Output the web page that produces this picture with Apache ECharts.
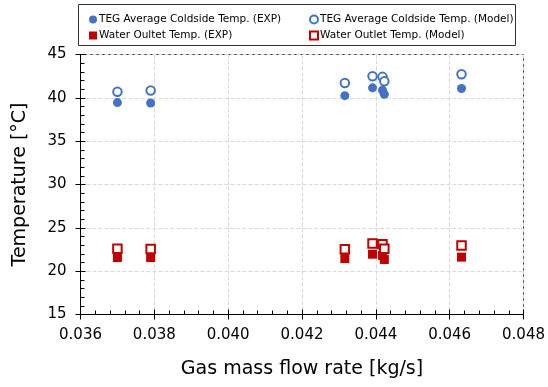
<!DOCTYPE html>
<html>
<head>
<meta charset="utf-8">
<script src="https://cdn.jsdelivr.net/npm/echarts@6/dist/echarts.min.js"></script>
<style>html,body{margin:0;padding:0;background:#fff}#c{width:548px;height:387px}</style>
</head>
<body>
<div id="c"></div>
<script>
const flowRate = [0.0370, 0.0379, 0.04316, 0.04391, 0.04418, 0.04423, 0.04632];
const tegExp = [39.45, 39.4, 40.25, 41.15, 40.88, 40.4, 41.08];
const tegModel = [40.7, 40.85, 41.72, 42.5, 42.42, 41.92, 42.73];
const waterExp = [21.57, 21.57, 21.45, 21.96, 21.82, 21.35, 21.62];
const waterModel = [22.6, 22.56, 22.52, 23.2, 23.1, 22.6, 22.95];
const xTicks = {min: 0.036, max: 0.048, step: 0.002};
const yTicks = {min: 15, max: 45, step: 5};
const seriesNames = ['TEG Average Coldside Temp. (EXP)', 'TEG Average Coldside Temp. (Model)', 'Water Oultet Temp. (EXP)', 'Water Outlet Temp. (Model)'];

const pair = ys => flowRate.map((x, i) => [x, ys[i]]);
const BLUE = '#4472C4', RED = '#C00000';
const FONT = 'DejaVu Sans';

const chart = echarts.init(document.getElementById('c'), null, {renderer: 'canvas'});
const baseX = {type: 'value', min: xTicks.min, max: xTicks.max, interval: xTicks.step};
const baseY = {type: 'value', min: yTicks.min, max: yTicks.max, interval: yTicks.step};
chart.setOption({
  animation: false,
  backgroundColor: '#fff',
  textStyle: {fontFamily: FONT},
  grid: {left: 80.5, right: 22.5, top: 54.5, bottom: 72.5, show: true, borderColor: '#333', borderWidth: 1},
  graphic: [{type: 'rect', shape: {x: 78.5, y: 4.5, width: 437, height: 41}, style: {fill: '#fff', stroke: '#333', lineWidth: 1}, z: 0}],
  legend: [
    {data: [seriesNames[0], seriesNames[2]], orient: 'vertical', left: 84, top: 9, itemGap: 5, itemWidth: 8, itemHeight: 8,
     textStyle: {fontFamily: FONT, fontSize: 10.5, color: '#000', padding: [0, 0, 0, -3]}, z: 5},
    {data: [seriesNames[1], seriesNames[3]], orient: 'vertical', left: 304, top: 9, itemGap: 5, itemWidth: 8, itemHeight: 8,
     textStyle: {fontFamily: FONT, fontSize: 10.5, color: '#000', padding: [0, 0, 0, -3]}, z: 5}
  ],
  xAxis: [
    Object.assign({}, baseX, {
      position: 'bottom',
      name: 'Gas mass flow rate [kg/s]', nameLocation: 'middle', nameGap: 45,
      nameTextStyle: {fontFamily: FONT, fontSize: 19, color: '#000'},
      axisLine: {lineStyle: {color: '#000', width: 1}},
      axisTick: {inside: true, length: 5, lineStyle: {color: '#000'}},
      minorTick: {show: true, splitNumber: 5, length: 4, lineStyle: {color: '#000'}},
      axisLabel: {fontFamily: FONT, fontSize: 15, color: '#000', margin: 13, formatter: v => v.toFixed(3)},
      splitLine: {show: true, lineStyle: {color: '#d9d9d9', type: 'dashed', width: 1}}
    }),
    Object.assign({}, baseX, {
      position: 'bottom', axisLine: {show: false}, axisLabel: {show: false}, splitLine: {show: false},
      axisTick: {inside: false, length: 5, lineStyle: {color: '#000'}}
    })
  ],
  yAxis: [
    Object.assign({}, baseY, {
      position: 'left',
      name: 'Temperature [°C]', nameLocation: 'middle', nameGap: 51,
      nameTextStyle: {fontFamily: FONT, fontSize: 19, color: '#000'},
      axisLine: {lineStyle: {color: '#000', width: 1}},
      axisTick: {inside: true, length: 5, lineStyle: {color: '#000'}},
      minorTick: {show: true, splitNumber: 5, length: 4, lineStyle: {color: '#000'}},
      axisLabel: {fontFamily: FONT, fontSize: 15, color: '#000', margin: 14},
      splitLine: {show: true, lineStyle: {color: '#d9d9d9', type: 'dashed', width: 1}}
    }),
    Object.assign({}, baseY, {
      position: 'left', axisLine: {show: false}, axisLabel: {show: false}, splitLine: {show: false},
      axisTick: {inside: false, length: 5, lineStyle: {color: '#000'}}
    })
  ],
  series: [
    {name: seriesNames[0], type: 'scatter', data: pair(tegExp), symbol: 'circle', symbolSize: 9,
     itemStyle: {color: BLUE, opacity: 1}},
    {name: seriesNames[1], type: 'scatter', data: pair(tegModel), symbol: 'circle', symbolSize: 8.5,
     itemStyle: {color: '#fff', borderColor: BLUE, borderWidth: 2, opacity: 1}},
    {name: seriesNames[2], type: 'scatter', data: pair(waterExp), symbol: 'rect', symbolSize: 9,
     itemStyle: {color: RED, opacity: 1}},
    {name: seriesNames[3], type: 'scatter', data: pair(waterModel), symbol: 'rect', symbolSize: 8.5,
     itemStyle: {color: '#fff', borderColor: RED, borderWidth: 2, opacity: 1}}
  ]
});
</script>
</body>
</html>
